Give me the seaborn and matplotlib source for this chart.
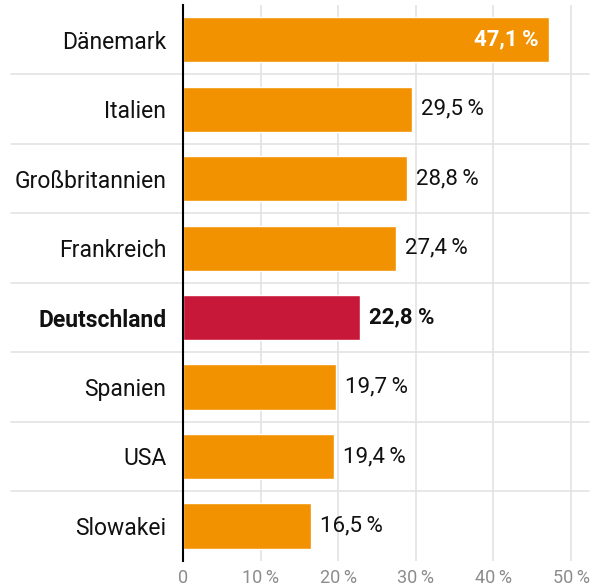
import matplotlib
matplotlib.use("Agg")
import matplotlib.pyplot as plt
import seaborn as sns

sns.set_theme(style="white")
plt.rcParams["font.family"] = ["Roboto", "DejaVu Sans"]

LAENDER = ["Dänemark", "Italien", "Großbritannien", "Frankreich",
           "Deutschland", "Spanien", "USA", "Slowakei"]
ANTEIL = [47.1, 29.5, 28.8, 27.4, 22.8, 19.7, 19.4, 16.5]
WERT_LABELS = ["47,1\u2009%", "29,5\u2009%", "28,8\u2009%", "27,4\u2009%",
               "22,8 %", "19,7\u2009%", "19,4\u2009%", "16,5\u2009%"]
X_TICKS = [0, 10, 20, 30, 40, 50]
X_TICK_LABELS = ["0", "10\u2009%", "20\u2009%", "30\u2009%", "40\u2009%", "50\u2009%"]

ORANGE = "#F39200"
ROT = "#C8183A"
farben = {land: (ROT if land == "Deutschland" else ORANGE) for land in LAENDER}

fig = plt.figure(figsize=(5.92, 5.86), dpi=100)
ax = fig.add_axes([0.3091, 0.0432, 0.6858, 0.9483])

sns.barplot(x=ANTEIL, y=LAENDER, hue=LAENDER, palette=farben, legend=False,
            width=0.65, orient="h", saturation=1, ax=ax, zorder=2)

ax.set_xlim(0, 52.3)
ax.set_ylim(len(LAENDER) - 0.5, -0.5)
ax.set_xticks(X_TICKS)
ax.set_xticklabels(X_TICK_LABELS, color="#8C8C8C", fontsize=13)
ax.tick_params(axis="x", length=0, pad=6)
ax.tick_params(axis="y", length=0, pad=12, labelsize=16.5, labelcolor="#111111")
for lbl in ax.get_yticklabels():
    if lbl.get_text() == "Deutschland":
        lbl.set_fontweight("bold")

ax.set_xlabel("")
ax.set_ylabel("")
ax.grid(axis="x", color="#E3E3E3", linewidth=1.2, zorder=0)
ax.set_axisbelow(True)

# Trennlinien zwischen den Zeilen, reichen bis in den Beschriftungsbereich
for i in range(len(LAENDER) - 1):
    ax.axhline(i + 0.5, xmin=-0.424, xmax=1, color="#E3E3E3",
               linewidth=1.2, clip_on=False, zorder=1)

for s in ["top", "right", "bottom"]:
    ax.spines[s].set_visible(False)
ax.spines["left"].set_color("black")
ax.spines["left"].set_linewidth(1.5)
ax.spines["left"].set_zorder(5)

for i, (wert, text) in enumerate(zip(ANTEIL, WERT_LABELS)):
    if i == 0:
        ax.text(wert - 1.3, i, text, ha="right", va="center", fontsize=16,
                color="white", fontweight="bold", zorder=6)
    elif LAENDER[i] == "Deutschland":
        ax.text(wert + 1.2, i, text, ha="left", va="center", fontsize=16,
                color="#111111", fontweight="bold", zorder=6)
    else:
        ax.text(wert + 1.2, i, text, ha="left", va="center", fontsize=16,
                color="#111111", zorder=6)

fig.savefig("out.png", dpi=100)
